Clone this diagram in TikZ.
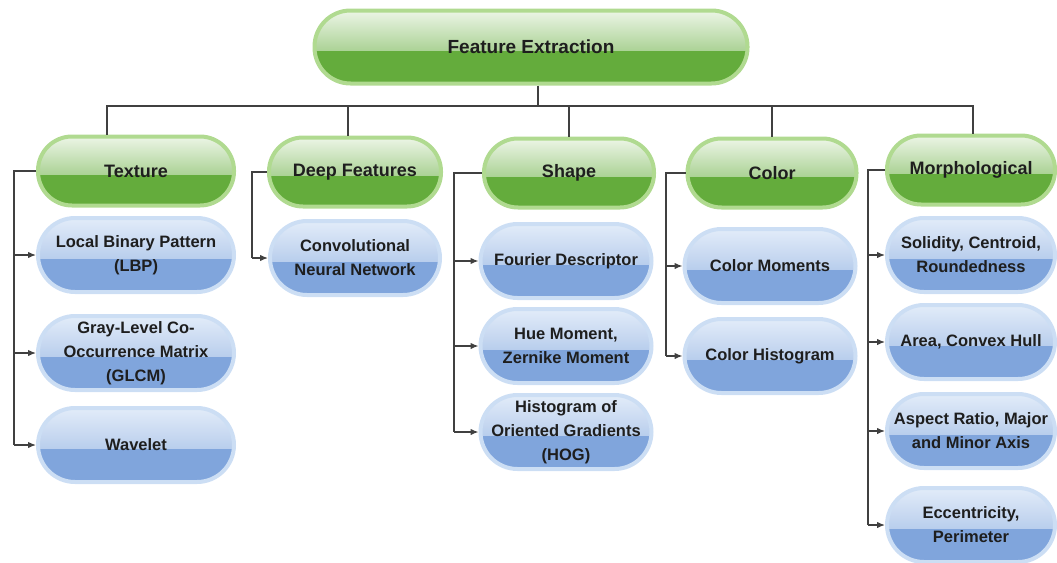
\documentclass[tikz,border=0pt]{standalone}
\usepackage{fontspec}
\setmainfont{Liberation Sans}
\usetikzlibrary{arrows.meta}

\definecolor{gmid}{RGB}{100,172,60}
\definecolor{gtop}{RGB}{236,245,230}
\definecolor{grim}{RGB}{176,218,144}
\definecolor{bmid}{RGB}{128,165,220}
\definecolor{btop}{RGB}{226,236,249}
\definecolor{brim}{RGB}{204,222,244}
\definecolor{ink}{RGB}{30,30,30}

\tikzset{
  pill/.style={rectangle, align=center, inner sep=0pt, line width=4pt, text=ink},
  greenpill/.style={pill, draw=grim, fill=gmid, rounded corners=34pt,
    path picture={\fill[sharp corners, top color=gtop, bottom color=gmid!88!white]
      (path picture bounding box.north west) rectangle ([yshift=-3pt]path picture bounding box.east);}},
  head/.style={greenpill, minimum height=69pt, font=\bfseries\fontsize{18}{21}\selectfont},
  item/.style={pill, draw=brim, fill=bmid, rounded corners=37pt, minimum height=74pt,
    font=\bfseries\fontsize{16.5}{24}\selectfont,
    path picture={\fill[sharp corners, top color=btop, bottom color=bmid!82!white]
      (path picture bounding box.north west) rectangle ([yshift=-3pt]path picture bounding box.east);}},
  link/.style={draw=black!75, line width=1.3pt},
  arr/.style={link, -{Latex[length=8pt,width=6.5pt]}}
}

\begin{document}
\begin{tikzpicture}[x=1pt,y=-1pt]
  \useasboundingbox (0,0) rectangle (1057,562);
  % root
  \node[greenpill, minimum width=433pt, minimum height=73pt, rounded corners=36pt,
        font=\bfseries\fontsize{19}{22}\selectfont] (fe) at (531,47) {Feature Extraction};
  % categories
  \node[head, minimum width=196pt] (tex)  at (136,171) {Texture};
  \node[head, minimum width=172pt] (deep) at (355,172) {Deep Features};
  \node[head, minimum width=170pt] (shp)  at (569,173) {Shape};
  \node[head, minimum width=169pt] (col)  at (772,173) {Color};
  \node[head, minimum width=168pt] (mor)  at (971,170) {Morphological};
  % texture
  \node[item, minimum width=196pt] (lbp)  at (136,255) {Local Binary Pattern\\(LBP)};
  \node[item, minimum width=196pt] (glcm) at (136,353) {Gray-Level Co-\\Occurrence Matrix\\(GLCM)};
  \node[item, minimum width=196pt] (wav)  at (136,445) {Wavelet};
  % deep features
  \node[item, minimum width=170pt] (cnn)  at (355,258) {Convolutional\\Neural Network};
  % shape
  \node[item, minimum width=171pt] (fou)  at (566,261) {Fourier Descriptor};
  \node[item, minimum width=171pt] (hue)  at (566,346) {Hue Moment,\\Zernike Moment};
  \node[item, minimum width=171pt] (hog)  at (566,432) {Histogram of\\Oriented Gradients\\(HOG)};
  % color
  \node[item, minimum width=171pt] (cm)   at (770,266) {Color Moments};
  \node[item, minimum width=171pt] (ch)   at (770,356) {Color Histogram};
  % morphological
  \node[item, minimum width=168pt] (sol)  at (971,255) {Solidity, Centroid,\\Roundedness};
  \node[item, minimum width=168pt] (area) at (971,342) {Area, Convex Hull};
  \node[item, minimum width=168pt] (asp)  at (971,431) {Aspect Ratio, Major\\and Minor Axis};
  \node[item, minimum width=168pt] (ecc)  at (971,525) {Eccentricity,\\Perimeter};

  % tree lines
  \coordinate (bus) at (0,106);
  \draw[link] ([xshift=7pt]fe.south) -- ([xshift=7pt]fe.south |- bus);
  \draw[link] ([xshift=-29pt]tex.north) -- ([xshift=-29pt]tex.north |- bus)
    -- ([xshift=2pt]mor.north |- bus) -- ([xshift=2pt]mor.north);
  \draw[link] ([xshift=-7pt]deep.north |- bus) -- ([xshift=-7pt]deep.north);
  \foreach \h in {shp,col}
    \draw[link] (\h.north |- bus) -- (\h.north);

  % side bars
  \coordinate (texbar) at (14,0);
  \coordinate (deepbar) at (252,0);
  \coordinate (shpbar) at (454,0);
  \coordinate (colbar) at (666,0);
  \coordinate (morbar) at (868,0);
  \draw[link] (tex.west) -- (tex.west -| texbar) -- (wav.west -| texbar);
  \foreach \c in {lbp,glcm,wav}
    \draw[arr] (\c.west -| texbar) -- (\c.west);
  \draw[link] (deep.west) -- (deep.west -| deepbar) -- (cnn.west -| deepbar);
  \draw[arr] (cnn.west -| deepbar) -- (cnn.west);
  \draw[link] (shp.west) -- (shp.west -| shpbar) -- (hog.west -| shpbar);
  \foreach \c in {fou,hue,hog}
    \draw[arr] (\c.west -| shpbar) -- (\c.west);
  \draw[link] (col.west) -- (col.west -| colbar) -- (ch.west -| colbar);
  \foreach \c in {cm,ch}
    \draw[arr] (\c.west -| colbar) -- (\c.west);
  \draw[link] (mor.west) -- (mor.west -| morbar) -- (ecc.west -| morbar);
  \foreach \c in {sol,area,asp,ecc}
    \draw[arr] (\c.west -| morbar) -- (\c.west);
\end{tikzpicture}
\end{document}
